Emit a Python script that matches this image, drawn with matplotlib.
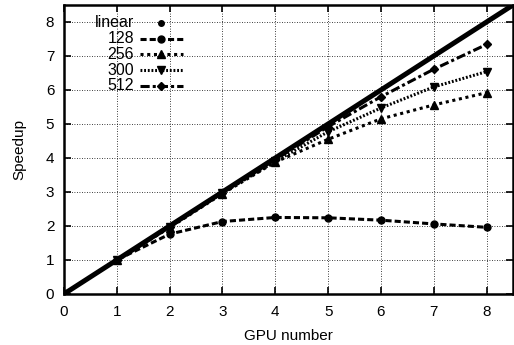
import numpy as np
import matplotlib.pyplot as plt

plt.rcParams['font.family'] = ['Liberation Sans', 'DejaVu Sans']
plt.rcParams['font.size'] = 11

gpus = [0, 1, 2, 3, 4, 5, 6, 7, 8]
linear_x = [0, 8.5]
linear_y = [0, 8.5]
s128 = [0, 1.0, 1.76, 2.13, 2.25, 2.24, 2.17, 2.06, 1.96]
s256 = [0, 1.0, 1.95, 2.95, 3.88, 4.55, 5.15, 5.56, 5.92]
s300 = [0, 1.0, 1.97, 2.97, 3.9, 4.77, 5.47, 6.09, 6.54]
s512 = [0, 1.0, 1.98, 2.98, 3.95, 4.92, 5.80, 6.61, 7.34]
labels = ['linear', '128', '256', '300', '512']

# style per series (ls, marker, size)
styles = {
    '128': ((0, (2, 1)), 'o', 5),
    '256': ((0, (1, 1.2)), '^', 6),
    '300': ((0, (0.6, 0.6)), 'v', 6),
    '512': ((0, (3, 1, 1, 1)), 'D', 4),
}

fig = plt.figure(figsize=(5.14, 3.45), dpi=100)
ax = fig.add_axes([0.1245, 0.148, 0.8735, 0.8375])

ax.plot(linear_x, linear_y, color='black', lw=3.6, solid_capstyle='butt', zorder=5)
for name, ys in zip(labels[1:], [s128, s256, s300, s512]):
    ls, mk, ms = styles[name]
    ax.plot(gpus, ys, color='black', ls=ls, lw=2.2, marker=mk, ms=ms, zorder=4)

# legend drawn by hand: right-aligned labels, key to the right
rows = [0.938, 0.883, 0.829, 0.775, 0.720]
for lab, y in zip(labels, rows):
    ax.text(0.156, y, lab, transform=ax.transAxes, ha='right', va='center', fontsize=11.5)
    if lab == 'linear':
        ax.plot([0.217], [y], transform=ax.transAxes, color='black', marker='o', ms=4,
                ls='none', clip_on=False)
    else:
        ls, mk, ms = styles[lab]
        ax.plot([0.169, 0.217, 0.265], [y, y, y], transform=ax.transAxes, color='black',
                ls=ls, lw=2.2, marker=mk, ms=ms, markevery=[1], clip_on=False)

ax.set_xlim(0, 8.5)
ax.set_ylim(0, 8.5)
ax.set_xticks(range(9))
ax.set_yticks(range(9))
ax.grid(True, color='black', ls=(0, (1, 2)), lw=0.6)
ax.tick_params(direction='in', top=True, right=True, length=5, width=1.2, labelsize=11)
ax.tick_params(axis='x', pad=8)
ax.tick_params(axis='y', pad=7)
for sp in ax.spines.values():
    sp.set_linewidth(1.8)
ax.set_xlabel('GPU number', fontsize=11, labelpad=7)
ax.set_ylabel('Speedup', fontsize=11, labelpad=14)

fig.savefig('out.png', dpi=100)
